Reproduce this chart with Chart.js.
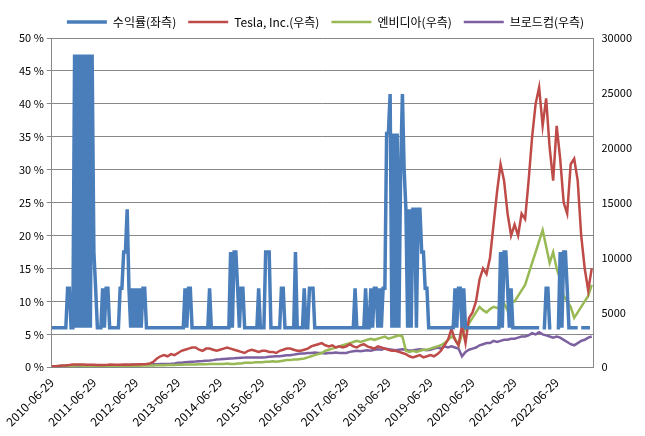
<!DOCTYPE html>
<html><head><meta charset="utf-8">
<script src="https://cdn.jsdelivr.net/npm/chart.js@4"></script>
<style>html,body{margin:0;background:#fff}#w{width:645px;height:436px}</style>
</head><body><div id="w"><canvas id="c"></canvas></div>
<script>
const seriesNames = ['수익률(좌측)','Tesla, Inc.(우측)','엔비디아(우측)','브로드컴(우측)'];
const tickLabels = ['2010-06-29','2011-06-29','2012-06-29','2013-06-29','2014-06-29','2015-06-29','2016-06-29','2017-06-29','2018-06-29','2019-06-29','2020-06-29','2021-06-29','2022-06-29'];
// return (%), half-monthly from 2010-06-29
const returnPct = [
6,6,6,6,6,6,6,6,6,12,12,6,6,
47.5,6,47.5,6,47.5,6,47.5,6,47.5,6,47.5,
17.5,12,6,6,6,12,6,12,12,6,6,6,6,6,6,12,
12,17.5,17.5,24,12,6,12,6,12,6,12,6,12,12,6,
6,6,6,6,6,6,6,6,6,6,6,6,6,6,6,6,6,6,6,6,6,
12,6,12,12,6,6,6,6,6,6,6,6,6,6,12,
6,6,6,6,6,6,6,6,6,6,6,
17.5,6,17.5,17.5,12,6,12,12,6,6,6,6,6,6,6,6,12,6,6,6,
17.5,17.5,17.5,6,6,6,6,6,6,12,12,6,6,6,6,6,6,17.5,6,6,6,6,12,6,6,12,12,12,
6,6,6,6,6,6,6,6,6,6,6,6,6,6,6,6,6,6,6,6,6,6,6,
12,6,6,6,6,6,12,6,6,12,6,12,12,6,12,6,12,12,35.5,
35.5,41.5,6,35.5,6,35.5,6,30,41.5,30,
24,6,24,6,24,24,6,24,24,17.5,17.5,12,12,
6,6,6,6,6,6,6,6,6,6,6,6,6,6,6,
12,6,12,12,6,12,
6,6,6,6,6,6,6,6,6,6,6,6,6,6,6,6,6,6,6,6,
17.5,6,17.5,17.5,12,6,12,
6,6,6,6,6,6,6,6,6,6,6,6,6,6,6,6,null,6,6,12,12,
6,6,null,null,6,6,17.5,6,17.5,17.5,12,6,6,6,6,6,6,null,6,6,6,6,6,6
];
// monthly prices from 2010-06
const tesla = [
100,100,120,150,170,200,250,260,250,250,230,220,
220,200,210,200,220,250,230,220,220,250,230,250,
260,270,280,300,350,500,800,1000,1100,1000,1200,1100,
1300,1500,1600,1700,1800,1800,1600,1500,1700,1700,1600,1500,
1600,1700,1800,1700,1600,1500,1400,1300,1500,1600,1500,1400,
1500,1500,1400,1400,1300,1500,1600,1700,1700,1600,1500,1500,
1600,1700,1900,2000,2100,2200,2000,1900,2000,1800,1900,1800,
1900,2100,1900,1800,2000,2100,1900,1800,1700,1900,1800,1700,
1600,1500,1500,1400,1300,1200,1000,900,1000,1100,900,1000,
1100,1000,1200,1500,2000,2500,3500,2500,2000,3800,2200,4500,
5000,6000,8000,9000,8500,10000,13000,16000,18500,17000,14000,12000,
13000,12000,14000,13500,17000,21000,24000,25500,22000,24500,20000,17000,
22000,19000,15000,14000,18500,19000,17000,12000,9000,7000,9000
];
const nvidia = [
100,100,110,110,120,130,140,150,150,140,130,130,
130,120,120,130,130,140,140,140,130,130,130,140,
140,140,150,150,160,170,180,180,190,200,200,210,
220,230,240,250,250,260,270,270,280,290,290,300,
300,300,350,300,300,350,350,400,400,400,450,450,
450,500,500,550,500,550,600,650,650,700,700,750,
800,900,1000,1100,1200,1300,1500,1600,1700,1800,1900,2000,
2100,2200,2300,2400,2300,2400,2500,2600,2500,2600,2700,2800,
2600,2700,2800,2900,2800,1500,1400,1500,1400,1500,1600,1600,
1700,1800,1900,2000,2200,2500,2800,2600,2000,3000,3500,4000,
4500,5000,5500,5200,5000,5300,5500,5400,5600,5800,5200,6000,
6000,6500,7000,7500,8500,9500,10500,11500,12500,11000,9500,10500,
9000,8000,6500,6000,5500,4500,5000,5500,6000,6500,7500
];
const broadcom = [
100,100,110,110,120,120,130,130,140,140,150,150,
160,160,170,170,180,180,190,190,200,200,210,220,
220,230,240,250,260,270,280,290,300,300,320,350,
400,420,450,480,500,520,550,570,600,620,650,700,
720,750,780,800,820,850,870,880,900,900,880,900,
900,920,950,980,1000,1000,1050,1100,1100,1150,1200,1250,
1250,1300,1300,1350,1300,1300,1250,1300,1300,1350,1300,1300,
1300,1400,1450,1500,1450,1500,1550,1500,1600,1650,1600,1700,
1650,1600,1550,1600,1650,1600,1500,1550,1600,1650,1600,1550,
1600,1700,1800,1700,1900,1800,1900,1800,1700,1000,1400,1600,
1700,1800,2000,2100,2200,2200,2400,2300,2400,2500,2500,2600,
2600,2700,2800,2800,2900,3100,3000,3200,3000,2900,2800,2700,
2800,2700,2500,2300,2100,2000,2200,2400,2500,2700,2800
];
const FONT = "'Noto Sans CJK KR','Liberation Sans',sans-serif";
const halfPts = returnPct.map((v,i)=>({x:i*0.5,y:v}));
const mPts = a => a.map((v,i)=>({x:i,y:v}));
new Chart(document.getElementById('c'), {
  type:'line',
  data:{datasets:[
    {label:seriesNames[0],data:halfPts,borderColor:'#4a7ebb',backgroundColor:'#4a7ebb',borderWidth:3.5,yAxisID:'y',spanGaps:false},
    {label:seriesNames[1],data:mPts(tesla),borderColor:'#be4b48',backgroundColor:'#be4b48',borderWidth:2.5,yAxisID:'y2'},
    {label:seriesNames[2],data:mPts(nvidia),borderColor:'#98b954',backgroundColor:'#98b954',borderWidth:2.5,yAxisID:'y2'},
    {label:seriesNames[3],data:mPts(broadcom),borderColor:'#7d60a0',backgroundColor:'#7d60a0',borderWidth:2.5,yAxisID:'y2'}
  ]},
  options:{
    responsive:true,maintainAspectRatio:false,animation:false,
    layout:{padding:{left:16,right:10,top:4,bottom:4}},
    elements:{point:{radius:0},line:{tension:0}},
    plugins:{
      legend:{position:'top',labels:{usePointStyle:true,pointStyle:'line',pointStyleWidth:40,boxHeight:4,padding:12,color:'#000',font:{family:FONT,size:12}}},
      tooltip:{enabled:false}
    },
    scales:{
      x:{type:'linear',min:0,max:154.5,
        grid:{display:false,drawTicks:true,tickLength:5,color:'#888'},border:{color:'#888'},
        afterBuildTicks:ax=>{ax.ticks=tickLabels.map((t,i)=>({value:i*12}));},
        ticks:{autoSkip:false,maxRotation:45,minRotation:45,color:'#000',font:{family:FONT,size:12},
          callback:(v)=>tickLabels[Math.round(v/12)]}},
      y:{position:'left',min:0,max:50,
        ticks:{stepSize:5,color:'#000',font:{family:FONT,size:11},callback:v=>v+' %'},
        grid:{color:'#888',drawTicks:true,tickLength:5},border:{color:'#888'}},
      y2:{position:'right',min:0,max:30000,
        ticks:{stepSize:5000,color:'#000',font:{family:FONT,size:11},callback:v=>String(v)},
        grid:{display:false,tickLength:5},border:{color:'#888'}}
    }
  }
});
</script></body></html>
